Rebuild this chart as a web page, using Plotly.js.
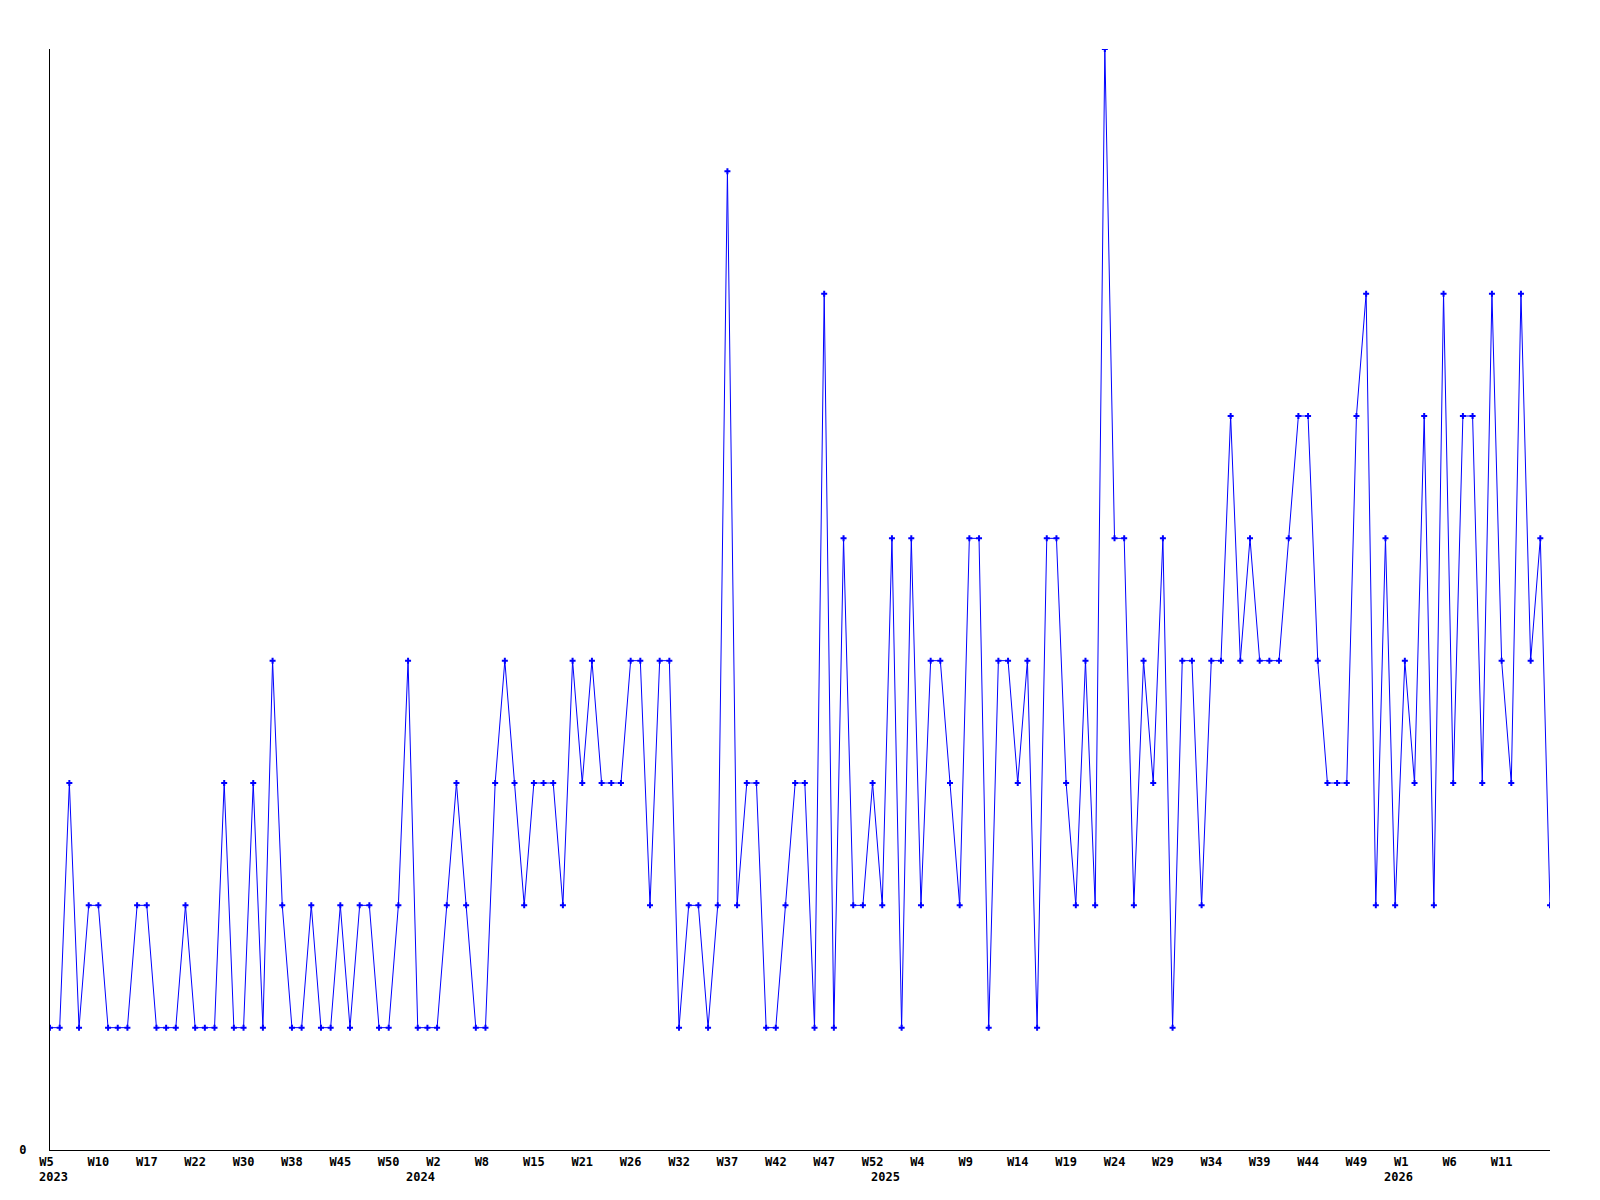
<!DOCTYPE html>
<html>
<head>
<meta charset="utf-8">
<script src="https://cdn.plot.ly/plotly-3.0.1.min.js"></script>
<style>
  html, body { margin: 0; padding: 0; background: #ffffff; }
  #chart { width: 1600px; height: 1200px; }
</style>
</head>
<body>
<div id="chart"></div>
<script>
// Weekly counts, one value per data point (left to right)
const counts = [
  1,1,3,1,2,2,1,1,1,2,2,1,1,1,2,1,1,1,3,1,1,3,1,
  4,2,1,1,2,1,1,2,1,2,2,1,1,2,4,1,1,1,2,3,2,1,1,
  3,4,3,2,3,3,3,2,4,3,4,3,3,3,4,4,2,4,4,1,2,2,1,
  2,8,2,3,3,1,1,2,3,3,1,7,1,5,2,2,3,2,5,1,5,2,4,
  4,3,2,5,5,1,4,4,3,4,1,5,5,3,2,4,2,9,5,5,2,4,
  3,5,1,4,4,2,4,4,6,4,5,4,4,4,5,6,6,4,3,3,3,6,7,
  2,5,2,4,3,6,2,7,3,6,6,3,7,4,3,7,4,5,2
];

// Week labels shown every 5th point
const weekTickLabels = [
  "W5","W10","W17","W22","W30","W38","W45","W50","W2","W8","W15",
  "W21","W26","W32","W37","W42","W47","W52","W4","W9","W14","W19",
  "W24","W29","W34","W39","W44","W49","W1","W6","W11"
];
const tickEvery = 5;

// Year labels and the point index where each year starts
const yearLabels = ["2023","2024","2025","2026"];
const yearStartIndex = [0, 38, 86, 139];

const pointIndex = counts.map((_, i) => i);
const tickVals = weekTickLabels.map((_, k) => k * tickEvery);
// pad to a fixed width so labels sit like the left-aligned originals
const tickText = weekTickLabels.map(s => s.length < 3 ? s + "\u00a0".repeat(3 - s.length) : s);

const font = { family: "DejaVu Sans Mono, Liberation Mono, monospace", size: 12, color: "#000000", weight: "bold" };

const trace = {
  x: pointIndex,
  y: counts,
  type: "scatter",
  mode: "lines+markers",
  line: { color: "#0000ff", width: 1 },
  marker: { symbol: "cross", size: 5, color: "#0000ff", line: { width: 0 } },
  hoverinfo: "skip"
};

const annotations = yearLabels.map((t, i) => ({
  text: t,
  x: yearStartIndex[i],
  xref: "x",
  y: 0,
  yref: "paper",
  xanchor: "left",
  yanchor: "middle",
  xshift: -13.5,
  yshift: -27,
  showarrow: false,
  font: font
}));

const layout = {
  width: 1600,
  height: 1200,
  margin: { l: 50, r: 50, t: 49, b: 50, pad: 0 },
  paper_bgcolor: "#ffffff",
  plot_bgcolor: "#ffffff",
  showlegend: false,
  font: font,
  xaxis: {
    range: [0, counts.length - 1],
    showgrid: false,
    zeroline: false,
    showline: true,
    linecolor: "#000000",
    linewidth: 1,
    ticks: "",
    tickmode: "array",
    tickvals: tickVals,
    ticktext: tickText,
    tickfont: font,
    ticklabelstandoff: 1,
    fixedrange: true
  },
  yaxis: {
    range: [0, 9],
    showgrid: false,
    zeroline: false,
    showline: true,
    linecolor: "#000000",
    linewidth: 1,
    ticks: "",
    tickmode: "array",
    tickvals: [0],
    ticktext: ["0"],
    tickfont: font,
    ticklabelstandoff: 20,
    fixedrange: true
  },
  annotations: annotations
};

Plotly.newPlot("chart", [trace], layout, { staticPlot: true, displayModeBar: false });
</script>
</body>
</html>
